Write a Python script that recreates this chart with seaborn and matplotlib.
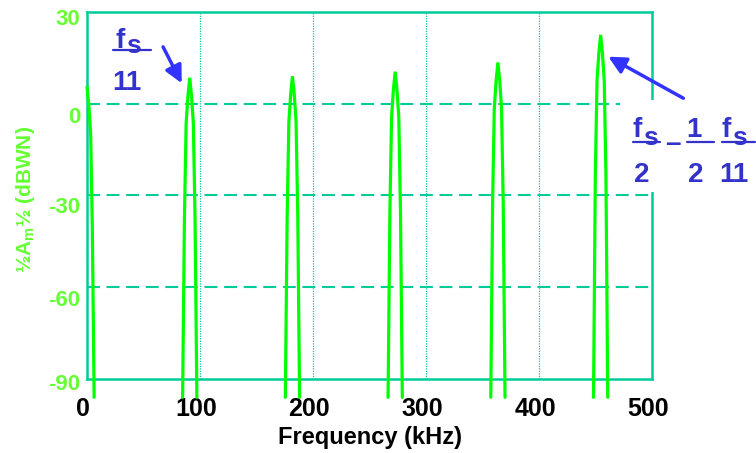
import numpy as np
import pandas as pd
import seaborn as sns
import matplotlib.pyplot as plt
import matplotlib.transforms as mtransforms
from matplotlib.patches import Rectangle

# --- data ---
peak_khz = [0.0, 90.9, 181.8, 272.7, 363.6, 454.5]     # k * fs/11, fs = 1000 kHz
peak_db = [5.5, 8.5, 9.0, 10.5, 13.5, 22.5]
shape_khz = [0.0, 1.6, 3.2, 4.7, 6.3]                  # offset from peak centre
shape_drop_db = [0.0, 6.0, 15.0, 46.0]                 # drop below peak, last point goes to floor
floor_db = -96.0

x_ticks = [0, 100, 200, 300, 400, 500]
y_ticks = [30, 0, -30, -60, -90]

teal = "#00cc99"
green = "#00ff00"
light_green = "#66ff33"
blue = "#3333cc"

sns.set_theme(style="white")
plt.rcParams["font.family"] = ["Liberation Sans", "DejaVu Sans"]
plt.rcParams["mathtext.fontset"] = "custom"
plt.rcParams["mathtext.bf"] = "Liberation Sans:bold"
plt.rcParams["mathtext.rm"] = "Liberation Sans"
plt.rcParams["axes.unicode_minus"] = False

# build each peak as its own line
rows = []
for i, (fc, lv) in enumerate(zip(peak_khz, peak_db)):
    levels = [lv - d for d in shape_drop_db] + [floor_db]
    left = [] if i == 0 else [(fc - o, l) for o, l in zip(shape_khz[::-1], levels[::-1])]
    right = [(fc + o, l) for o, l in zip(shape_khz, levels)]
    if left:
        right = right[1:]
    for x, y in left + right:
        rows.append({"peak": i, "khz": x, "db": y})
df = pd.DataFrame(rows)

fig = plt.figure(figsize=(7.56, 4.53), dpi=100)
ax = fig.add_axes([0.1151, 0.1634, 0.7474, 0.8101])

sns.lineplot(data=df, x="khz", y="db", units="peak", estimator=None, sort=False,
             color=green, lw=2.3, ax=ax, legend=False)
for ln in ax.lines:
    ln.set_clip_on(False)
    ln.set_zorder(3)
    ln.set_solid_joinstyle("miter")

ax.set_xlim(0, 500)
ax.set_ylim(-90, 30)
ax.set_xticks(x_ticks)
ax.set_yticks(y_ticks)
ax.tick_params(axis="both", length=0)
ax.tick_params(axis="x", pad=13, labelsize=18, labelcolor="black")
ax.tick_params(axis="y", pad=5, labelsize=16, labelcolor=light_green)
for t in ax.get_xticklabels():
    t.set_fontweight("bold")
    t.set_transform(t.get_transform() + mtransforms.ScaledTranslation(-4 / 100, 0, fig.dpi_scale_trans))
# the y labels sit a little below their gridlines in the original
y_label_drop_px = [5, 11, 10, 11, 3]
for t, d in zip(ax.get_yticklabels(), y_label_drop_px):
    t.set_fontweight("bold")
    t.set_transform(t.get_transform() + mtransforms.ScaledTranslation(0, -d / 100, fig.dpi_scale_trans))

ax.xaxis.grid(True, color=teal, lw=0.9, ls=(0, (1, 1)))
ax.yaxis.grid(True, color=teal, lw=1.5, ls=(0, (6.2, 3.2)))
for g in (ax.xaxis.get_gridlines()[0], ax.xaxis.get_gridlines()[-1],
          ax.yaxis.get_gridlines()[0], ax.yaxis.get_gridlines()[-1]):
    g.set_visible(False)
for s in ax.spines.values():
    s.set_color(teal)
    s.set_linewidth(1.8)

ax.set_xlabel("Frequency (kHz)", fontsize=17, fontweight="bold", color="black")
ax.xaxis.set_label_coords(0.5, -0.128)
ax.set_ylabel(r"½A$_\mathbf{m}$½ (dBWN)", fontsize=15, fontweight="bold", color=light_green)
ax.yaxis.set_label_coords(-0.088, 0.49)

# white patch behind the right-hand annotation
ax.add_patch(Rectangle((471.7, -28.9), 125, 30.1, facecolor="white", edgecolor="none",
                       clip_on=False, zorder=4))

kw = dict(color=blue, fontsize=20, fontweight="bold", va="baseline", zorder=6, clip_on=False)
bar_kw = dict(color=blue, lw=1.6, clip_on=False, zorder=6)
arrow_kw = dict(arrowstyle="-|>", color="#3333ff", lw=2.5, shrinkA=0, shrinkB=0)


def fs(x_left, y_f, y_s):
    ax.text(x_left, y_f, "f", ha="left", **kw)
    ax.text(x_left + 9.5, y_s, "s", ha="left", **{**kw, "fontsize": 19})


# f_s / 11 label at first alias
fs(24.8, 18.1, 16.6)
ax.plot([22.7, 56.3], [17.6, 17.6], **bar_kw)
ax.text(35.1, 4.5, "11", ha="center", **kw)
ax.annotate("", xy=(83.8, 6.7), xytext=(67.3, 18.6), annotation_clip=False,
            arrowprops=dict(mutation_scale=26, **arrow_kw), zorder=6)

# fs/2 - 1/2 fs/11 label at last alias
fs(482.3, -10.9, -13.5)
ax.plot([482.9, 507.1], [-12.4, -12.4], **bar_kw)
ax.text(490.7, -25.6, "2", ha="center", **kw)
ax.text(518.1, -15.4, "–", ha="center", **kw)
ax.text(537.2, -10.9, "1", ha="center", **kw)
ax.plot([530.7, 554.9], [-12.4, -12.4], **bar_kw)
ax.text(539.0, -25.6, "2", ha="center", **kw)
fs(561.7, -10.9, -13.5)
ax.plot([561.7, 591.2], [-12.4, -12.4], **bar_kw)
ax.text(572.6, -25.6, "11", ha="center", **kw)
ax.annotate("", xy=(461.3, 15.4), xytext=(527.7, 1.8), annotation_clip=False,
            arrowprops=dict(mutation_scale=26, **arrow_kw), zorder=6)

fig.savefig("out.png", dpi=100)
